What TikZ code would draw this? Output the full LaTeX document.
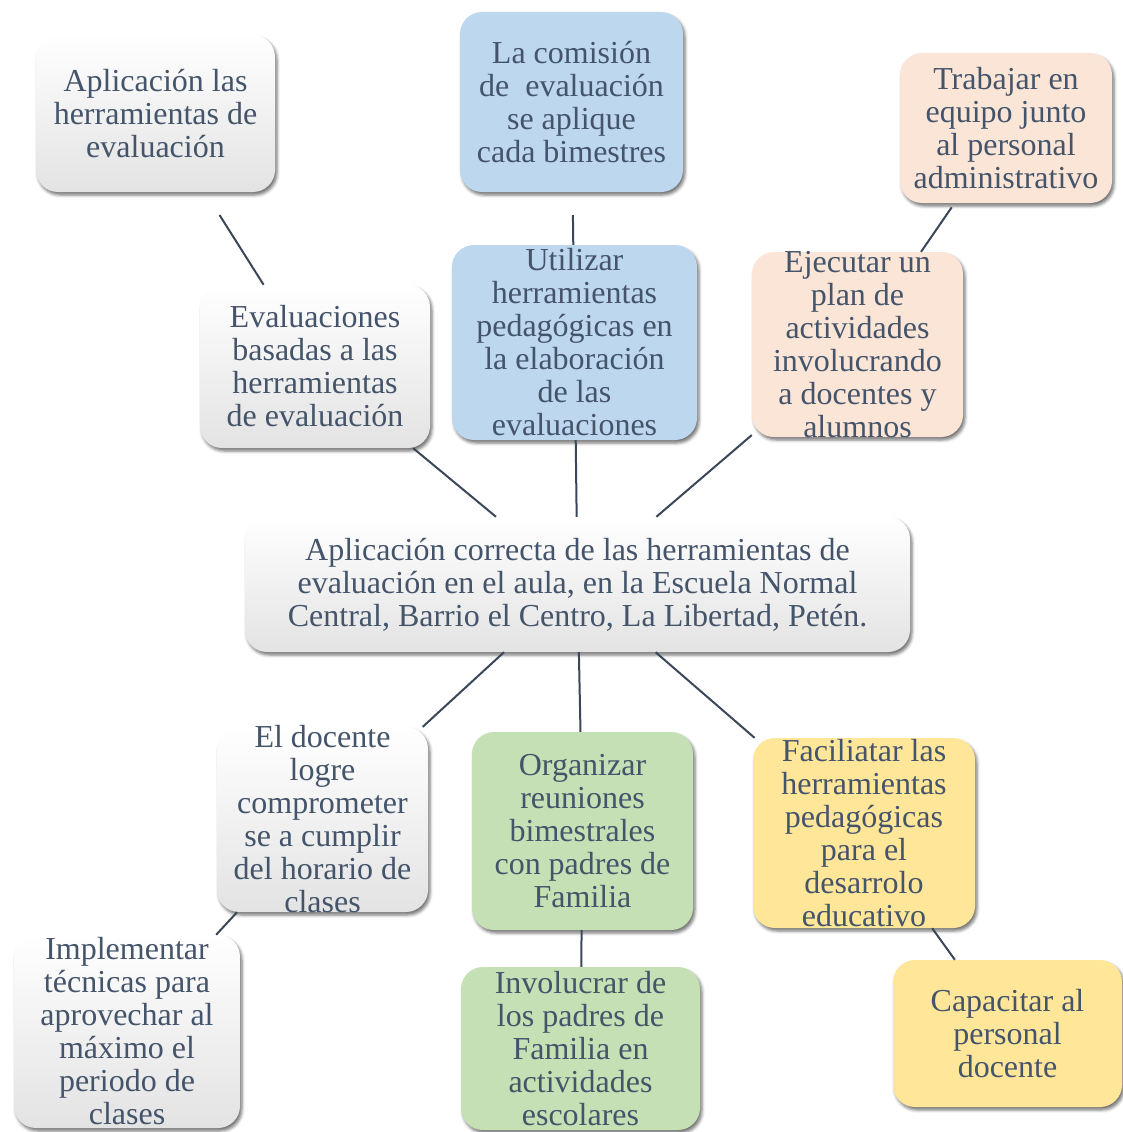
\documentclass[tikz,border=0pt]{standalone}
\usepackage{fontspec}
\setmainfont{Liberation Serif}
\usetikzlibrary{shadows.blur}

\definecolor{txtblue}{HTML}{44546A}
\definecolor{linecol}{HTML}{3A4759}
\definecolor{boxblue}{HTML}{BDD7EE}
\definecolor{boxpeach}{HTML}{FBE5D6}
\definecolor{boxgreen}{HTML}{C5E0B4}
\definecolor{boxyellow}{HTML}{FFE699}

% fixed size box, text centred and allowed to run over
\newcommand{\boxtext}[3]{\parbox[c][#2pt][c]{#1pt}{\centering #3}}

\begin{document}
\begin{tikzpicture}[x=1pt,y=-1pt,
  box/.style={rectangle,rounded corners=22pt,inner sep=0pt,
    blur shadow={shadow xshift=2pt,shadow yshift=-3pt,shadow opacity=55,shadow blur radius=3pt},
    font=\fontsize{32}{33}\selectfont,text=txtblue},
  whitebox/.style={box,top color=white,middle color=white,bottom color=black!11},
  bluebox/.style={box,fill=boxblue},
  peachbox/.style={box,fill=boxpeach},
  greenbox/.style={box,fill=boxgreen},
  yellowbox/.style={box,fill=boxyellow}]
  \useasboundingbox (0,0) rectangle (1122,1132);

  \node[whitebox]  (A) at (155.5,113.5) {\boxtext{239}{157}{Aplicación las\\herramientas de\\evaluación}};
  \node[bluebox]   (B) at (571.5,102)   {\boxtext{223}{180}{La comisión\\de\ \ evaluación\\se aplique\\cada bimestres}};
  \node[peachbox]  (C) at (1006,128)    {\boxtext{212}{150}{Trabajar en\\equipo junto\\al personal\\administrativo}};
  \node[whitebox]  (D) at (315,366.5)   {\boxtext{230}{163}{Evaluaciones\\basadas a las\\herramientas\\de evaluación}};
  \node[bluebox]   (E) at (574.5,342.5) {\boxtext{245}{195}{Utilizar\\herramientas\\pedagógicas en\\la elaboración\\de las\\evaluaciones}};
  \node[peachbox]  (F) at (857.5,344.5) {\boxtext{211}{185}{Ejecutar un\\plan de\\actividades\\involucrando\\a docentes y\\alumnos}};
  \node[whitebox]  (G) at (577.5,584.5) {\boxtext{665}{135}{Aplicación correcta de las herramientas de\\evaluación en el aula, en la Escuela Normal\\Central, Barrio el Centro, La Libertad, Petén.}};
  \node[whitebox]  (H) at (322.5,819.5) {\boxtext{211}{185}{El docente\\logre\\comprometer\\se a cumplir\\del horario de\\clases}};
  \node[greenbox]  (I) at (582.5,831)   {\boxtext{221}{198}{Organizar\\reuniones\\bimestrales\\con padres de\\Familia}};
  \node[yellowbox] (J) at (864,833)     {\boxtext{222}{190}{Faciliatar las\\herramientas\\pedagógicas\\para el\\desarrolo\\educativo}};
  \node[whitebox]  (K) at (127,1031.5)  {\boxtext{226}{193}{Implementar\\técnicas para\\aprovechar al\\máximo el\\periodo de\\clases}};
  \node[greenbox]  (L) at (580.5,1048.5) {\boxtext{239}{163}{Involucrar de\\los padres de\\Familia en\\actividades\\escolares}};
  \node[yellowbox] (M) at (1007.5,1033.5) {\boxtext{229}{147}{Capacitar al\\personal\\docente}};

\tikzset{mystyle/.style={draw=linecol,line width=2pt}}
\path (D)     edge [mystyle,shorten >=27pt] (A)
      (E)     edge [mystyle,shorten >=23pt] (B)
      (F)     edge [mystyle,shorten >=5pt] (C)
      (G)     edge [mystyle] (D)
      (G)     edge [mystyle] (E)
      (G)     edge [mystyle] (F)
      (G)     edge [mystyle] (H)
      (G)     edge [mystyle] (I)
      (G)     edge [mystyle] (J)
      (H)     edge [mystyle] (K)
      (I)     edge [mystyle] (L)
      (J)     edge [mystyle] (M);
\end{tikzpicture}
\end{document}
